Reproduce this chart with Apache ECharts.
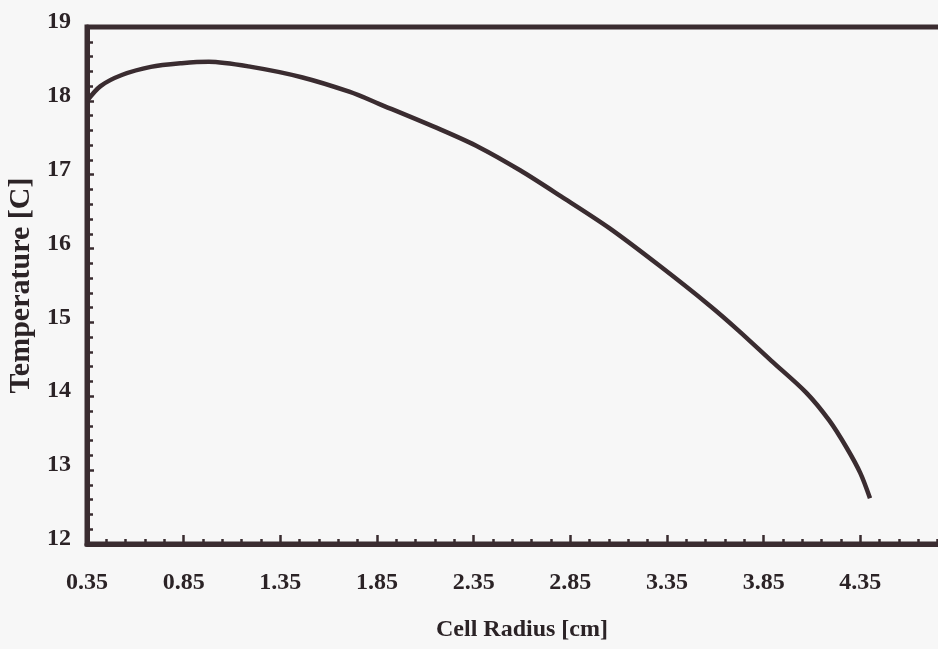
<!DOCTYPE html>
<html>
<head>
<meta charset="utf-8">
<script src="https://cdn.jsdelivr.net/npm/echarts@6/dist/echarts.min.js"></script>
<style>
  html, body { margin: 0; padding: 0; background: #f7f7f7; }
  #chart { width: 938px; height: 649px; }
</style>
</head>
<body>
<div id="chart"></div>
<script>
// Cell radius [cm] and temperature [C] along the temperature profile
const radius = [0.35, 0.42, 0.53, 0.68, 0.84, 0.98, 1.20, 1.46, 1.71, 1.86, 2.18, 2.38, 2.59, 2.80, 3.05, 3.31, 3.57, 3.72, 3.89, 4.07, 4.19, 4.28, 4.35, 4.40];
const temperature = [18.00, 18.20, 18.35, 18.46, 18.51, 18.53, 18.46, 18.32, 18.12, 17.96, 17.61, 17.37, 17.06, 16.71, 16.28, 15.77, 15.23, 14.89, 14.48, 14.05, 13.67, 13.30, 12.96, 12.62];

// Axis tick labels
const xTickLabels = [0.35, 0.85, 1.35, 1.85, 2.35, 2.85, 3.35, 3.85, 4.35];
const xMajorTicks = [0.35, 0.85, 1.35, 1.85, 2.35, 2.85, 3.35, 3.85, 4.35, 4.85];
const yTickLabels = [12, 13, 14, 15, 16, 17, 18, 19];

const xMin = 0.35, xMax = 4.85;
const xMinorTicks = [];
for (let k = 0; k <= 45; k++) {
  const v = +(xMin + k * 0.1).toFixed(2);
  if (xMajorTicks.indexOf(v) < 0) xMinorTicks.push(v);
}

const ink = '#3a2c30';
const textInk = '#2b2326';
const font = 'Liberation Serif';

const chart = echarts.init(document.getElementById('chart'), null, { renderer: 'canvas' });
chart.setOption({
  backgroundColor: '#f7f7f7',
  animation: false,
  grid: {
    left: 87, top: 27, right: -19, bottom: 105,
    outerBoundsMode: 'none',
    show: true, borderColor: ink, borderWidth: 5, backgroundColor: 'transparent'
  },
  xAxis: [
    {
      type: 'value', min: xMin, max: xMax,
      position: 'bottom',
      name: 'Cell Radius [cm]', nameLocation: 'middle', nameGap: 74,
      nameTextStyle: { fontFamily: font, fontWeight: 'bold', fontSize: 24, color: textInk },
      axisLine: { show: true, lineStyle: { color: ink, width: 5 } },
      axisTick: { show: true, inside: true, length: 9, customValues: xMajorTicks, lineStyle: { color: ink, width: 2.5 } },
      axisLabel: {
        customValues: xTickLabels, margin: 27,
        fontFamily: font, fontWeight: 'bold', fontSize: 24, color: textInk,
        formatter: v => v.toFixed(2)
      },
      splitLine: { show: false }
    },
    {
      type: 'value', min: xMin, max: xMax,
      position: 'bottom',
      axisLine: { show: false },
      axisTick: { show: true, inside: true, length: 5, customValues: xMinorTicks, lineStyle: { color: ink, width: 2.5 } },
      axisLabel: { show: false },
      splitLine: { show: false }
    }
  ],
  yAxis: {
    type: 'value', min: 12, max: 19, interval: 1,
    name: 'Temperature [C]', nameLocation: 'middle', nameGap: 50,
    nameTextStyle: { fontFamily: font, fontWeight: 'bold', fontSize: 30, color: textInk },
    axisLine: { show: true, lineStyle: { color: ink, width: 5 } },
    axisTick: { show: true, inside: true, length: 7, lineStyle: { color: ink, width: 2.5 } },
    minorTick: { show: true, splitNumber: 5, length: 6, lineStyle: { color: ink, width: 2.5 } },
    axisLabel: {
      margin: 16, fontFamily: font, fontWeight: 'bold', fontSize: 24, color: textInk,
      verticalAlign: 'bottom', lineHeight: 10
    },
    splitLine: { show: false },
    minorSplitLine: { show: false }
  },
  series: [{
    type: 'line',
    xAxisIndex: 0,
    data: radius.map((r, i) => [r, temperature[i]]),
    smooth: 0.3,
    showSymbol: false,
    lineStyle: { color: ink, width: 4.5 },
    clip: false
  }]
});
</script>
</body>
</html>
